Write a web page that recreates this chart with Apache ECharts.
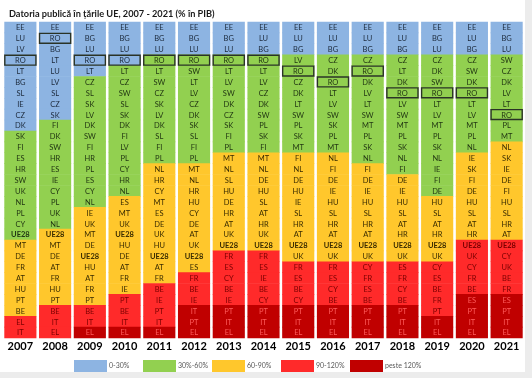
<!DOCTYPE html>
<html>
<head>
<meta charset="utf-8">
<script src="https://cdn.jsdelivr.net/npm/echarts@6/dist/echarts.min.js"></script>
<style>html,body{margin:0;padding:0;background:#ececec}#c{width:532px;height:378px}</style>
</head>
<body>
<div id="c"></div>
<script>
const years = ['2007','2008','2009','2010','2011','2012','2013','2014','2015','2016','2017','2018','2019','2020','2021'];
const categories = ['0-30%','30%-60%','60-90%','90-120%','peste 120%'];
const colors = ['#8DB4E2','#92D050','#FFC72C','#FF2A2A','#C00000'];
const textColors = ['#1c2a3c','#1f3311','#3a2c00','#7a0000','#ff5a5a'];

// country ranking per year (lowest debt at top)
const r2007 = ['EE','LU','LV','RO','LT','BG','SL','IE','CZ','DK','SK','FI','ES','HR','SW','UK','NL','PL','CY','UE28','MT','DE','FR','AT','HU','PT','BE','EL','IT'];
const r2008 = ['EE','RO','BG','LT','LU','LV','SL','CZ','SK','FI','DK','SW','HR','ES','IE','CY','PL','UK','NL','UE28','MT','DE','AT','FR','HU','PT','BE','IT','EL'];
const r2009 = ['EE','BG','LU','RO','LT','CZ','SL','SK','LV','DK','SW','FI','HR','PL','ES','CY','NL','IE','UK','MT','DE','UE28','HU','AT','FR','PT','BE','IT','EL'];
const r2010 = ['EE','BG','LU','RO','LT','CZ','SW','SL','SK','DK','FI','LV','PL','CY','HR','NL','ES','MT','UK','UE28','HU','DE','AT','FR','IE','PT','BE','IT','EL'];
const r2011 = ['EE','BG','LU','RO','LT','SW','CZ','SK','LV','DK','SL','FI','PL','NL','HR','CY','MT','ES','DE','UK','HU','UE28','AT','FR','BE','IE','PT','IT','EL'];
const r2012 = ['EE','BG','LU','RO','SW','LT','LV','CZ','DK','SK','SL','FI','PL','MT','NL','HR','HU','CY','DE','AT','UK','UE28','ES','FR','BE','IE','IT','PT','EL'];
const r2013 = ['EE','BG','LU','RO','LT','LV','SW','DK','CZ','SK','FI','PL','MT','NL','SL','HU','DE','HR','AT','UK','UE28','FR','ES','CY','BE','IE','PT','IT','EL'];
const r2014 = ['EE','LU','BG','RO','LT','LV','CZ','DK','SW','PL','SK','FI','MT','NL','DE','HU','SL','AT','HR','UK','UE28','FR','ES','IE','BE','CY','PT','IT','EL'];
const r2015 = ['EE','LU','BG','LV','RO','CZ','DK','LT','SW','PL','SK','MT','FI','NL','DE','HU','IE','SL','HR','AT','UE28','UK','FR','ES','BE','CY','PT','IT','EL'];
const r2016 = ['EE','LU','BG','CZ','DK','RO','LT','LV','SW','SK','PL','MT','NL','FI','DE','IE','HU','SL','HR','AT','UE28','UK','FR','ES','CY','BE','PT','IT','EL'];
const r2017 = ['EE','LU','BG','CZ','RO','DK','LV','LT','SW','MT','PL','SK','NL','FI','DE','IE','HU','SL','HR','AT','UE28','UK','CY','FR','ES','BE','PT','IT','EL'];
const r2018 = ['EE','LU','BG','CZ','LT','DK','RO','LV','SW','MT','PL','SK','NL','FI','DE','IE','HU','SL','AT','HR','UE28','UK','ES','FR','CY','BE','PT','IT','EL'];
const r2019 = ['EE','BG','LU','CZ','DK','SW','RO','LT','LV','MT','PL','SK','NL','IE','FI','DE','HU','SL','AT','HR','UE28','UK','CY','ES','BE','FR','PT','IT','EL'];
const r2020 = ['EE','LU','BG','CZ','SW','DK','RO','LT','LV','MT','PL','NL','IE','SK','FI','DE','HU','SL','AT','HR','UE28','UK','CY','FR','BE','ES','PT','IT','EL'];
const r2021 = ['EE','BG','LU','SW','CZ','DK','LV','LT','RO','PL','MT','NL','SK','IE','DE','FI','HU','SL','HR','AT','UE28','CY','UK','BE','FR','ES','PT','IT','EL'];
const rankings = [r2007,r2008,r2009,r2010,r2011,r2012,r2013,r2014,r2015,r2016,r2017,r2018,r2019,r2020,r2021];

// number of countries in each debt band per year (0-30, 30-60, 60-90, 90-120, >120)
const bandCounts = [
  [10,10,7,2,0],[9,10,7,3,0],[5,12,9,2,1],[4,12,9,3,1],[3,10,11,4,1],
  [3,10,10,3,3],[3,9,9,5,3],[3,9,9,5,3],[3,9,10,4,3],[3,9,10,4,3],
  [3,10,9,4,3],[3,11,8,4,3],[3,13,6,5,2],[3,9,8,5,4],[3,8,9,5,4]
];

const rows = r2007.map((_, i) => String(i));
const seriesData = categories.map(() => []);
rankings.forEach((list, x) => {
  let k = 0;
  bandCounts[x].forEach((n, b) => {
    for (let j = 0; j < n; j++, k++) seriesData[b].push([x, k, list[k]]);
  });
});

const chart = echarts.init(document.getElementById('c'));
const FONT = 'Lato, "Open Sans", sans-serif';

function makeRender(b) {
  return function (params, api) {
    const d = seriesData[b][params.dataIndex];
    const p = api.coord([d[0], d[1]]);
    const s = api.size([1, 1]);
    const x0 = p[0] - s[0] / 2 + 1.3;
    const w = s[0] - 2.6;
    const y0 = p[1] - s[1] / 2;
    const children = [
      { type: 'rect', shape: { x: x0, y: y0 - 0.3, width: w, height: s[1] + 0.6 },
        style: { fill: colors[b] } },
      { type: 'text', style: { x: p[0], y: p[1] + 0.5, text: d[2], align: 'center', verticalAlign: 'middle',
        fill: textColors[b], font: (d[2] === 'UE28' ? 'bold 7.5px ' : '7.5px ') + FONT } }
    ];
    if (d[2] === 'RO') {
      children.push({ type: 'rect', z2: 10, shape: { x: x0 + 0.5, y: y0 + 0.5, width: w - 1, height: s[1] - 1 },
        style: { fill: 'none', stroke: '#2a3326', lineWidth: 1.4 } });
    }
    return { type: 'group', children };
  };
}

chart.setOption({
  backgroundColor: '#ececec',
  animation: false,
  graphic: [{ type: 'rect', z: -10, silent: true, shape: { x: 0, y: 0, width: 525, height: 372 }, style: { fill: '#ffffff' } }],
  title: { text: 'Datoria publică în țările UE, 2007 - 2021 (% în PIB)', left: 4, top: 5,
    textStyle: { fontFamily: FONT, fontSize: 9.2, fontWeight: 'bold', color: '#1a1a1a' } },
  grid: { left: 3, right: 8, top: 22, bottom: 40 },
  xAxis: { type: 'category', data: years, axisLine: { show: false }, axisTick: { show: false },
    splitLine: { show: false },
    axisLabel: { margin: 3, fontFamily: FONT, fontSize: 11, fontWeight: 'bold', color: '#000' } },
  yAxis: { type: 'category', data: rows, inverse: true, show: false },
  legend: categories.map((c, i) => ({
    data: [c], left: 69 + 69 * i, top: 355, itemWidth: 33, itemHeight: 12, itemGap: 0,
    icon: 'rect', textStyle: { fontFamily: FONT, fontSize: 7, color: '#595959', padding: [0, 0, 0, -3] }
  })),
  series: categories.map((c, b) => ({
    name: c, type: 'custom', color: colors[b], renderItem: makeRender(b),
    encode: { x: 0, y: 1 }, data: seriesData[b].map(d => [d[0], d[1]])
  }))
});
</script>
</body>
</html>
